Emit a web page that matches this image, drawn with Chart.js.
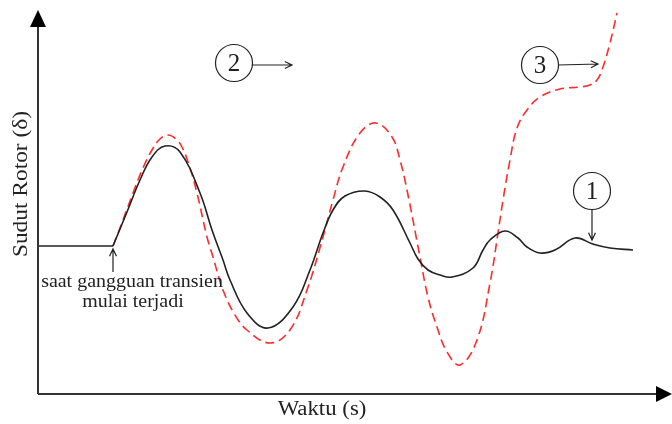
<!DOCTYPE html>
<html>
<head>
<meta charset="utf-8">
<script src="https://cdn.jsdelivr.net/npm/chart.js@4/dist/chart.umd.min.js"></script>
<style>
  html, body { margin: 0; padding: 0; background: #fff; }
  #wrap { width: 672px; height: 424px; }
</style>
</head>
<body>
<div id="wrap"><canvas id="chart" width="672" height="424"></canvas></div>
<script>
// Rotor angle response curves (arbitrary linear units)
const prefaultTime = [0, 75];
const prefaultAngle = [148, 148];

// curve 1: stable, damped swing
const stableTime = [75, 89, 102, 114, 127, 142, 162, 174, 185, 192, 209, 230, 255, 272, 285, 295, 307, 327, 342, 355, 372, 380, 390, 402, 414, 435, 445, 452, 467, 480, 489, 502, 517, 537, 555, 572, 595];
const stableAngle = [148, 182, 214, 237, 248, 242, 201, 164, 134, 114, 81, 66, 87, 124, 161, 184, 198, 203, 197, 184, 151, 135, 124, 119, 117, 126, 144, 154, 163, 156, 147, 141, 144, 156, 150, 146, 144];

// curve 3: unstable, growing swing then loss of synchronism
const unstableTime = [75, 85, 95, 105, 114, 122, 130, 138, 144, 152, 159, 169, 175, 185, 197, 209, 232, 252, 269, 285, 295, 305, 322, 338, 354, 362, 369, 382, 390, 399, 409, 422, 439, 452, 460, 465, 472, 479, 489, 502, 522, 542, 552, 559, 564, 572, 579];
const unstableAngle = [148, 174, 201, 226, 244, 255, 259, 255, 247, 226, 201, 157, 137, 104, 79, 64, 51, 64, 104, 157, 194, 227, 261, 271, 257, 234, 204, 137, 97, 67, 42, 29, 54, 111, 161, 194, 234, 266, 284, 297, 305, 307, 309, 314, 324, 351, 381];

// circled case labels: [text, x, y]
const caseLabels = [['1', 554, 203], ['2', 196, 331], ['3', 502, 329]];

const toPoints = (xs, ys) => xs.map((x, i) => ({ x: x, y: ys[i] }));

const SERIF = '"Liberation Serif", "DejaVu Serif", serif';

// text slightly stretched sideways like the original figure
function wideText(ctx, txt, x, y, sx) {
    ctx.save();
    ctx.translate(x, y);
    ctx.scale(sx, 1);
    ctx.fillText(txt, 0, 0);
    ctx.restore();
}

// axes with arrow heads, titles and annotations
const decorPlugin = {
    id: 'decor',
    afterDraw(chart) {
        const ctx = chart.ctx;
        const a = chart.chartArea;
        const xs = chart.scales.x;
        const ys = chart.scales.y;
        const X = v => xs.getPixelForValue(v);
        const Y = v => ys.getPixelForValue(v);

        ctx.save();
        // axis lines
        ctx.strokeStyle = '#333';
        ctx.fillStyle = '#000';
        ctx.lineWidth = 2;
        ctx.beginPath();
        ctx.moveTo(a.left, a.bottom);
        ctx.lineTo(a.left, a.top + 12);
        ctx.moveTo(a.left, a.bottom);
        ctx.lineTo(a.right - 12, a.bottom);
        ctx.stroke();
        // arrow heads
        ctx.beginPath();
        ctx.moveTo(a.left, a.top);
        ctx.lineTo(a.left - 8, a.top + 17);
        ctx.lineTo(a.left + 8, a.top + 17);
        ctx.closePath();
        ctx.fill();
        ctx.beginPath();
        ctx.moveTo(a.right, a.bottom);
        ctx.lineTo(a.right - 16, a.bottom - 8);
        ctx.lineTo(a.right - 16, a.bottom + 8);
        ctx.closePath();
        ctx.fill();

        // axis titles
        ctx.fillStyle = '#222';
        ctx.font = '20px ' + SERIF;
        ctx.textAlign = 'center';
        ctx.textBaseline = 'middle';
        wideText(ctx, 'Waktu (s)', 322, 410, 1.14);
        ctx.save();
        ctx.translate(22, 184);
        ctx.rotate(-Math.PI / 2);
        wideText(ctx, 'Sudut Rotor (\u03b4)', 0, 0, 1.17);
        ctx.restore();

        // fault start note
        ctx.font = '19px ' + SERIF;
        wideText(ctx, 'saat gangguan transien', 132, 282, 1.05);
        wideText(ctx, 'mulai terjadi', 133, 302, 1.05);

        // small arrows
        ctx.strokeStyle = '#222';
        ctx.lineWidth = 1.2;
        const arrow = (x1, y1, x2, y2) => {
            const ang = Math.atan2(y2 - y1, x2 - x1);
            ctx.beginPath();
            ctx.moveTo(x1, y1);
            ctx.lineTo(x2, y2);
            ctx.moveTo(x2 - 8 * Math.cos(ang - 0.45), y2 - 8 * Math.sin(ang - 0.45));
            ctx.lineTo(x2, y2);
            ctx.lineTo(x2 - 8 * Math.cos(ang + 0.45), y2 - 8 * Math.sin(ang + 0.45));
            ctx.stroke();
        };
        arrow(X(75), 272, X(75), Y(145));

        // circled labels
        ctx.font = '25px ' + SERIF;
        caseLabels.forEach(([t, vx, vy]) => {
            const cx = X(vx), cy = Y(vy);
            ctx.beginPath();
            ctx.arc(cx, cy, 18.5, 0, Math.PI * 2);
            ctx.stroke();
            ctx.fillText(t, cx, cy + 1);
        });
        const [c1, c2, c3] = caseLabels.map(l => ({ x: X(l[1]), y: Y(l[2]) }));
        arrow(c1.x, c1.y + 18, c1.x, c1.y + 49);
        arrow(c2.x + 18, c2.y + 2, c2.x + 58, c2.y + 2);
        arrow(c3.x + 18, c3.y, c3.x + 58, c3.y - 1);
        ctx.restore();
    }
};

const lineStyle = {
    pointRadius: 0,
    fill: false,
    tension: 0.4
};

new Chart(document.getElementById('chart').getContext('2d'), {
    type: 'line',
    data: {
        datasets: [
            Object.assign({
                label: 'Sebelum gangguan',
                data: toPoints(prefaultTime, prefaultAngle),
                borderColor: '#222',
                borderWidth: 1.5
            }, lineStyle),
            Object.assign({
                label: 'Stabil',
                data: toPoints(stableTime, stableAngle),
                borderColor: '#222',
                borderWidth: 1.6
            }, lineStyle),
            Object.assign({
                label: 'Tidak stabil',
                data: toPoints(unstableTime, unstableAngle),
                borderColor: '#ff2b2b',
                borderWidth: 1.6,
                borderDash: [9, 5]
            }, lineStyle)
        ]
    },
    options: {
        responsive: false,
        animation: false,
        layout: { padding: { left: 38, top: 10, right: 0, bottom: 30 } },
        plugins: {
            legend: { display: false },
            tooltip: { enabled: false }
        },
        scales: {
            x: { type: 'linear', display: false, min: 0, max: 634 },
            y: { display: false, min: 0, max: 384 }
        }
    },
    plugins: [decorPlugin]
});
</script>
</body>
</html>
